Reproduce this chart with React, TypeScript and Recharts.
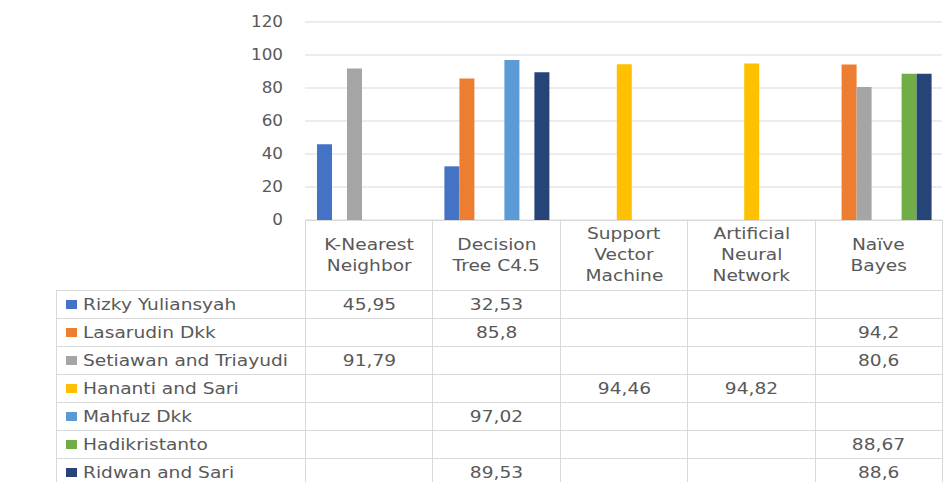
import React from "react";
import { Bar, BarChart, CartesianGrid, XAxis, YAxis } from "recharts";

const categories = [
  "K-Nearest Neighbor",
  "Decision Tree C4.5",
  "Support Vector Machine",
  "Artificial Neural Network",
  "Naïve Bayes",
];
const categoryLines = [
  ["K-Nearest", "Neighbor"],
  ["Decision", "Tree C4.5"],
  ["Support", "Vector", "Machine"],
  ["Artificial", "Neural", "Network"],
  ["Naïve", "Bayes"],
];

const rizky = [45.95, 32.53, null, null, null];
const lasarudin = [null, 85.8, null, null, 94.2];
const setiawan = [91.79, null, null, null, 80.6];
const hananti = [null, null, 94.46, 94.82, null];
const mahfuz = [null, 97.02, null, null, null];
const hadikristanto = [null, null, null, null, 88.67];
const ridwan = [null, 89.53, null, null, 88.6];

const yTicks = [0, 20, 40, 60, 80, 100, 120];

const series = [
  { key: "rizky", name: "Rizky Yuliansyah", color: "#4472C4", values: rizky },
  { key: "lasarudin", name: "Lasarudin Dkk", color: "#ED7D31", values: lasarudin },
  { key: "setiawan", name: "Setiawan and Triayudi", color: "#A5A5A5", values: setiawan },
  { key: "hananti", name: "Hananti and Sari", color: "#FFC000", values: hananti },
  { key: "mahfuz", name: "Mahfuz Dkk", color: "#5B9BD5", values: mahfuz },
  { key: "hadikristanto", name: "Hadikristanto", color: "#70AD47", values: hadikristanto },
  { key: "ridwan", name: "Ridwan and Sari", color: "#264478", values: ridwan },
];

const data = categories.map((category, i) => {
  const row: Record<string, string | number | null> = { category };
  series.forEach((s) => {
    row[s.key] = s.values[i];
  });
  return row;
});

const TEXT = "#595959";
const GRID = "#d9d9d9";
const STRETCH = 1.24;
const PLOT_LEFT = 305;
const PLOT_RIGHT = 942;
const PLOT_TOP = 22;
const PLOT_BOTTOM = 220;
const TABLE_LEFT = 56;
const HEADER_H = 70;
const ROW_H = 28;

const fmt = (v: number | null) => (v == null ? "" : String(v).replace(".", ","));

function YTick(props: any) {
  const { x, y, payload } = props;
  return (
    <text
      x={x}
      y={y}
      dy="0.36em"
      textAnchor="end"
      fill={TEXT}
      fontSize={15}
      fontFamily="DejaVu Sans"
      transform={`translate(${x} 0) scale(1.12 1) translate(${-x} 0)`}
    >
      {payload.value}
    </text>
  );
}

function Stretched({ children, origin = "center" }: { children: React.ReactNode; origin?: string }) {
  return (
    <span style={{ display: "inline-block", transform: `scaleX(${STRETCH})`, transformOrigin: origin }}>
      {children}
    </span>
  );
}

export default function App() {
  const bandW = (PLOT_RIGHT - PLOT_LEFT) / categories.length;
  const firstW = PLOT_LEFT - TABLE_LEFT;
  const border = `1px solid ${GRID}`;

  return (
    <div
      style={{
        position: "absolute",
        left: 0,
        top: 0,
        width: 951,
        height: 482,
        background: "#fff",
        overflow: "hidden",
        fontFamily: "DejaVu Sans",
      }}
    >
      <BarChart
        width={951}
        height={482}
        data={data}
        margin={{ top: PLOT_TOP, right: 951 - PLOT_RIGHT, bottom: 482 - PLOT_BOTTOM, left: PLOT_LEFT - 60 }}
        barCategoryGap={12}
        barGap={0}
      >
        <CartesianGrid vertical={false} stroke={GRID} />
        <XAxis dataKey="category" hide />
        <YAxis
          domain={[0, 120]}
          ticks={yTicks}
          interval={0}
          width={60}
          axisLine={false}
          tickLine={false}
          tickMargin={16}
          tick={<YTick />}
        />
        {series.map((s) => (
          <Bar key={s.key} dataKey={s.key} name={s.name} fill={s.color} isAnimationActive={false} />
        ))}
      </BarChart>

      <table
        style={{
          position: "absolute",
          left: TABLE_LEFT,
          top: PLOT_BOTTOM,
          width: PLOT_RIGHT - TABLE_LEFT + 1,
          borderCollapse: "collapse",
          tableLayout: "fixed",
          color: TEXT,
          fontSize: 15,
          fontFamily: "DejaVu Sans",
        }}
      >
        <colgroup>
          <col style={{ width: firstW }} />
          {categories.map((c) => (
            <col key={c} style={{ width: bandW }} />
          ))}
        </colgroup>
        <tbody>
          <tr style={{ height: HEADER_H }}>
            <td style={{ border: "none", padding: 0 }} />
            {categoryLines.map((lines, i) => (
              <td key={i} style={{ border, padding: 0, textAlign: "center", lineHeight: "21px" }}>
                {lines.map((l) => (
                  <div key={l}>
                    <Stretched>{l}</Stretched>
                  </div>
                ))}
              </td>
            ))}
          </tr>
          {series.map((s) => (
            <tr key={s.key} style={{ height: ROW_H }}>
              <td style={{ border, padding: "0 0 0 9px", whiteSpace: "nowrap" }}>
                <span
                  style={{
                    display: "inline-block",
                    width: 11,
                    height: 9,
                    background: s.color,
                    marginRight: 6,
                    verticalAlign: "middle",
                    position: "relative",
                    top: -1,
                  }}
                />
                <Stretched origin="left">{s.name}</Stretched>
              </td>
              {s.values.map((v, i) => (
                <td key={i} style={{ border, padding: 0, textAlign: "center" }}>
                  <Stretched>{fmt(v)}</Stretched>
                </td>
              ))}
            </tr>
          ))}
        </tbody>
      </table>
    </div>
  );
}
